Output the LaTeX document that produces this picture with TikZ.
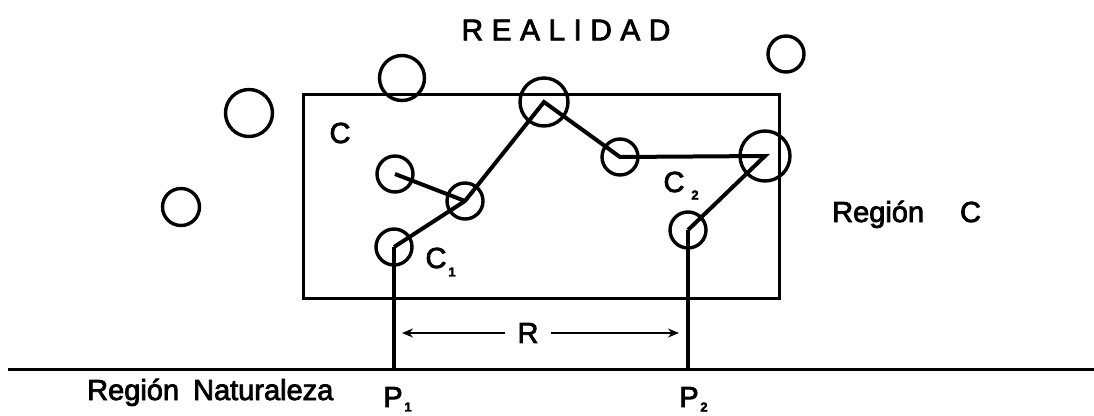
\documentclass[tikz,border=0pt]{standalone}
\usepackage{fontspec}
\setmainfont{Liberation Sans}[FakeBold=2.6]
\usetikzlibrary{arrows.meta}
\begin{document}
\begin{tikzpicture}[x=1pt,y=-1pt,
  ring/.style={circle,draw,line width=3.4pt,inner sep=0pt,minimum size=#1},
  lbl/.style={inner sep=0pt,font=\fontsize{29}{33}\selectfont},
  sublbl/.style={inner sep=0pt,font=\bfseries\fontsize{13}{15}\selectfont},
  chain/.style={line width=4pt,line join=miter},
  frame/.style={line width=3pt},
  post/.style={line width=3.2pt},
  span/.style={line width=2.6pt,-{Stealth[length=11pt,width=9pt]}}]
\useasboundingbox (0,0) rectangle (1094,415);
% title
\node[lbl,font=\fontsize{30}{34}\selectfont\addfontfeature{LetterSpace=28}] (title) at (566,30) {REALIDAD};
% region C box
\coordinate (bl) at (303,298);
\coordinate (tr) at (779,94);
\draw[frame] (bl) rectangle (tr);
% outside circles
\node[ring=47pt] (o1) at (249,113) {};
\node[ring=37pt] (o2) at (181,207) {};
\node[ring=45pt] (o3) at (402,78) {};
\node[ring=36pt] (o4) at (786,54) {};
% inside circles
\node[ring=36pt] (ca) at (395,174) {};
\node[ring=36pt] (cb) at (465,201) {};
\node[ring=36pt] (c1) at (394,247) {};
\node[ring=48pt] (cp) at (544,102) {};
\node[ring=36pt] (cm) at (620,157) {};
\node[ring=50pt] (cr) at (765,156) {};
\node[ring=36pt] (c2) at (688,230) {};
% ground
\coordinate (g0) at (8,369);
\coordinate (g1) at (1094,369);
\draw[frame] (g0) -- (g1);
\coordinate (p1) at (394,369);
\coordinate (p2) at (688,369);
% chain of circles
\draw[chain] (c1.center) -- (cb.center) -- (cp.center) -- (cm.center) -- (cr.center) -- (c2.center);
\draw[chain] (ca.center) -- (cb.center);
\draw[post] (c1.center) -- (p1);
\draw[post] (c2.center) -- (p2);
% labels
\node[lbl] (lc) at (340,133) {C};
\node[lbl] (lc1) at (436,258) {C};
\node[sublbl] (lc1s) at (452,272) {1};
\node[lbl] (lc2) at (674,182) {C};
\node[sublbl] (lc2s) at (695,195) {2};
\node[lbl,anchor=base west] (rc) at (832,222) {Región\hspace{36pt}C};
\node[lbl,anchor=base west] (rn) at (87,400) {Región\hspace{6pt} Naturaleza};
% R span
\node[lbl] (R) at (528,333) {R};
\coordinate (ra) at (402,333);
\coordinate (rb) at (679,333);
\draw[span] ([xshift=-12pt]R.west) -- (ra);
\draw[span] ([xshift=12pt]R.east) -- (rb);
% P labels
\node[lbl,anchor=base] (lp1) at (393,407) {P};
\node[sublbl] (lp1s) at (408,407) {1};
\node[lbl,anchor=base] (lp2) at (689,407) {P};
\node[sublbl] (lp2s) at (704,407) {2};
\end{tikzpicture}
\end{document}
